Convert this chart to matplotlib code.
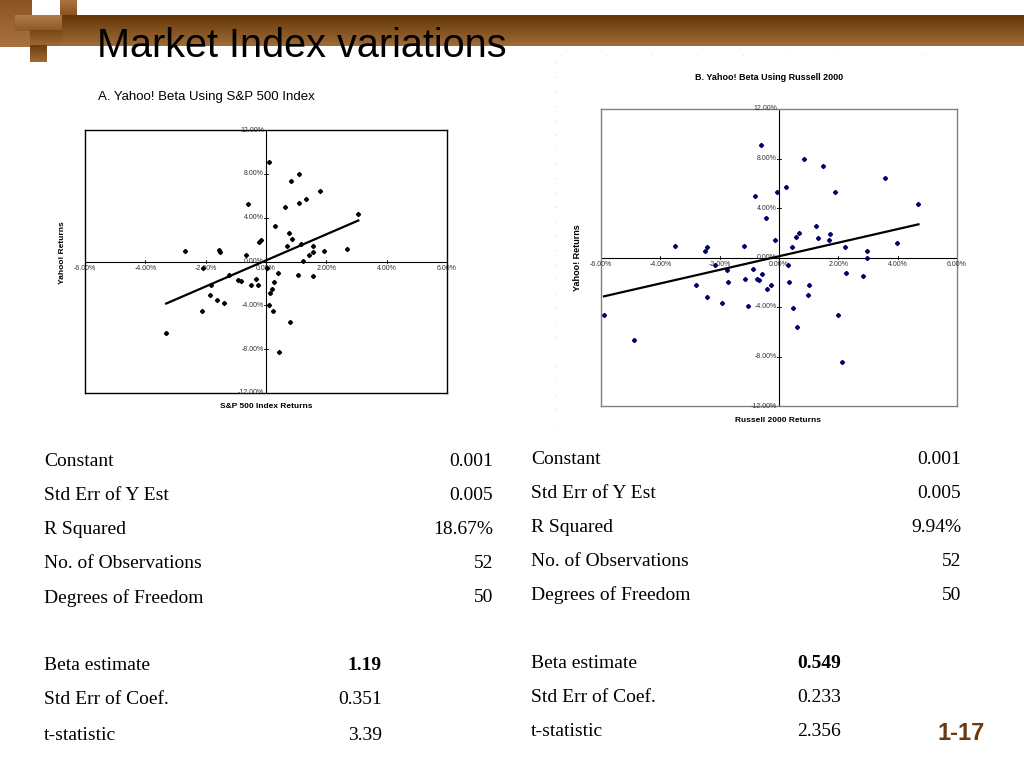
import numpy as np
import matplotlib
matplotlib.use("Agg")
import matplotlib.pyplot as plt
from matplotlib.colors import LinearSegmentedColormap

# weekly returns in %
sp500_x = [0.11, 1.08, 0.82, 1.80, -0.61, 0.63, 1.11, 1.32, 3.06, 0.30,
           0.76, 0.86, -0.17, -0.24, 0.68, 1.17, 1.57, -2.69, -1.56, -1.51,
           -0.66, 1.91, 2.69, 1.43, 1.57, 1.23, 0.02, -2.10, 0.39, 1.05,
           1.55, -1.23, -0.92, -0.83, -0.33, 0.26, -0.49, -0.26, -1.82, 0.19,
           0.13, -1.85, -1.61, -1.40, 0.09, -2.13, 0.24, 0.81, -3.31, 0.44]
sp500_y = [9.12, 7.97, 7.39, 6.45, 5.27, 4.97, 5.36, 5.67, 4.33, 3.21,
           2.58, 2.06, 2.00, 1.82, 1.42, 1.60, 1.42, 0.94, 1.03, 0.88,
           0.55, 0.94, 1.18, 0.58, 0.85, 0.06, -0.58, -0.55, -1.03, -1.21,
           -1.33, -1.21, -1.67, -1.82, -1.58, -1.91, -2.12, -2.12, -2.12, -2.48,
           -2.85, -3.09, -3.55, -3.76, -3.94, -4.48, -4.48, -5.48, -6.55, -8.30]

russell_x = [-0.61, 0.84, 1.49, 3.58, 0.24, -0.08, -0.81, 1.89, 4.70, -0.43,
             1.24, 0.69, 0.56, 1.72, 1.30, 1.69, -0.15, 3.98, -3.51, -2.44,
             -2.51, -1.18, 0.43, 2.22, 2.97, 2.97, 0.29, -2.15, -1.74, -0.88,
             -0.58, 2.27, 2.82, -1.15, -1.72, -0.73, -0.67, 0.33, -2.80, -0.26,
             1.01, -0.42, -2.43, 0.98, -1.92, -1.03, 0.48, -5.90, 1.99, 0.62,
             -4.89, 2.12]
russell_y = [9.11, 7.95, 7.41, 6.46, 5.68, 5.27, 4.95, 5.27, 4.32, 3.19,
             2.54, 2.00, 1.68, 1.92, 1.59, 1.38, 1.38, 1.14, 0.92, 0.84,
             0.49, 0.92, 0.84, 0.84, 0.49, 0.00, -0.57, -0.57, -1.03, -0.89,
             -1.30, -1.22, -1.46, -1.76, -1.95, -1.73, -1.81, -2.00, -2.24, -2.24,
             -2.24, -2.54, -3.16, -3.00, -3.65, -3.92, -4.05, -4.68, -4.68, -5.59,
             -6.70, -8.43]

tick_x = [-6, -4, -2, 0, 2, 4, 6]
tick_y = [-12, -8, -4, 0, 4, 8, 12]

stat_labels = ["Constant", "Std Err of Y Est", "R Squared",
               "No. of Observations", "Degrees of Freedom"]
sp500_stats = ["0.001", "0.005", "18.67%", "52", "50"]
russell_stats = ["0.001", "0.005", "9.94%", "52", "50"]
coef_labels = ["Beta estimate", "Std Err of Coef.", "t-statistic"]
sp500_coef = ["1.19", "0.351", "3.39"]
russell_coef = ["0.549", "0.233", "2.356"]
sp500_beta, russell_beta = 1.19, 0.549
constant = 0.1  # 0.001 as %

W, H = 1024, 768
SANS = "Liberation Sans"
SERIF = "Liberation Serif"

fig = plt.figure(figsize=(W / 100, H / 100), dpi=100)
fig.patch.set_facecolor("white")

bg = fig.add_axes([0, 0, 1, 1])
bg.set_xlim(0, W)
bg.set_ylim(H, 0)
bg.axis("off")


def gradient(x0, y0, x1, y1, top, bottom, z=1):
    cmap = LinearSegmentedColormap.from_list("g", [top, bottom])
    bg.imshow(np.linspace(0, 1, 64).reshape(-1, 1), cmap=cmap, aspect="auto",
              extent=(x0, x1, y1, y0), zorder=z)


# header bar and the square decoration on the left
gradient(45, 15, W, 46, "#643608", "#a06c38")
gradient(0, 0, 32, 47, "#8a5522", "#a8733f", 2)
gradient(60, 0, 77, 15, "#a8733f", "#8a5522", 2)
gradient(15, 15, 62, 31, "#b07a46", "#8e5a28", 2)
gradient(30, 30, 62, 46, "#7a4614", "#a06a35", 2)
gradient(30, 45, 47, 62, "#6e3c0e", "#a06a35", 2)
bg.set_xlim(0, W)
bg.set_ylim(H, 0)

bg.text(97, 57, "Market Index variations", fontsize=28.5, family=SANS,
        va="baseline", ha="left", color="black", zorder=3)
bg.text(961, 733, "1-17", fontsize=17, family=SANS, weight="bold",
        color="#6b3a10", ha="center", va="center")

# faint dotted frame round chart B
bg.plot([556, 556], [62, 425], color="#dddddd", lw=0.8, ls=(0, (1, 12)))
bg.plot([560, 960], [55, 55], color="#e4e4e4", lw=0.8, ls=(0, (1, 40)))


def chart(left, top, right, bottom, xs, ys, beta, color, frame):
    ax = fig.add_axes([left / W, 1 - bottom / H, (right - left) / W,
                       (bottom - top) / H])
    ax.set_xlim(-6, 6)
    ax.set_ylim(-12, 12)
    ax.set_xticks([])
    ax.set_yticks([])
    for s in ax.spines.values():
        s.set_color(frame)
        s.set_linewidth(1.0)
    ax.axhline(0, color="black", lw=0.8, zorder=1)
    ax.axvline(0, color="black", lw=0.8, zorder=1)
    for v in tick_x:
        ax.plot([v, v], [-0.15, 0.15], color="black", lw=0.6)
        ax.annotate(f"{v:.2f}%", (v, 0), xytext=(0, -2.5),
                    textcoords="offset points", ha="center", va="top",
                    fontsize=5, family=SANS, color="#333333",
                    annotation_clip=False)
    for v in tick_y:
        ax.plot([-0.07, 0.07], [v, v], color="black", lw=0.6)
        ax.annotate(f"{v:.2f}%", (0, v), xytext=(-1.5, 0),
                    textcoords="offset points", ha="right", va="center",
                    fontsize=5, family=SANS, color="#333333",
                    annotation_clip=False)
    ax.plot(xs, ys, ls="none", marker="D", ms=2.1, color=color,
            mec=color, zorder=3)
    lx = np.array([min(xs), max(xs)])
    ax.plot(lx, constant + beta * lx, color="black", lw=1.6, zorder=4)
    return ax


chart(85, 130, 447, 393, sp500_x, sp500_y, sp500_beta, "black", "black")
chart(601, 109, 957, 406, russell_x, russell_y, russell_beta, "#000066",
      "#808080")

bg.text(98, 97, "A. Yahoo! Beta Using S&P 500 Index", fontsize=9.5,
        family=SANS, ha="left", va="center")
bg.text(769, 78, "B. Yahoo! Beta Using Russell 2000", fontsize=6.5,
        family=SANS, weight="bold", ha="center", va="center")
bg.text(62, 253, "Yahoo! Returns", fontsize=6, family=SANS, weight="bold",
        rotation=90, ha="center", va="center")
bg.text(578, 258, "Yahoo! Returns", fontsize=6.5, family=SANS, weight="bold",
        rotation=90, ha="center", va="center")
bg.text(266, 407, "S&P 500 Index Returns", fontsize=6, family=SANS,
        weight="bold", ha="center", va="center")
bg.text(778, 421, "Russell 2000 Returns", fontsize=6, family=SANS,
        weight="bold", ha="center", va="center")


def table(lx, vx, cx, rows1, rows2, stats, coefs):
    for y, lab, val in zip(rows1, stat_labels, stats):
        bg.text(lx, y, lab, fontsize=14, family=SERIF, ha="left", va="center")
        bg.text(vx, y, val, fontsize=14, family=SERIF, ha="right", va="center")
    for i, (y, lab, val) in enumerate(zip(rows2, coef_labels, coefs)):
        bg.text(lx, y, lab, fontsize=14, family=SERIF, ha="left", va="center")
        bg.text(cx, y, val, fontsize=14, family=SERIF, ha="right",
                va="center", weight="bold" if i == 0 else "normal")


table(44, 493, 382, [462, 495, 530, 564, 598], [666, 700, 735],
      sp500_stats, sp500_coef)
table(531, 961, 841, [459, 493, 527, 561, 595], [664, 698, 732],
      russell_stats, russell_coef)

fig.savefig("out.png", dpi=100)
